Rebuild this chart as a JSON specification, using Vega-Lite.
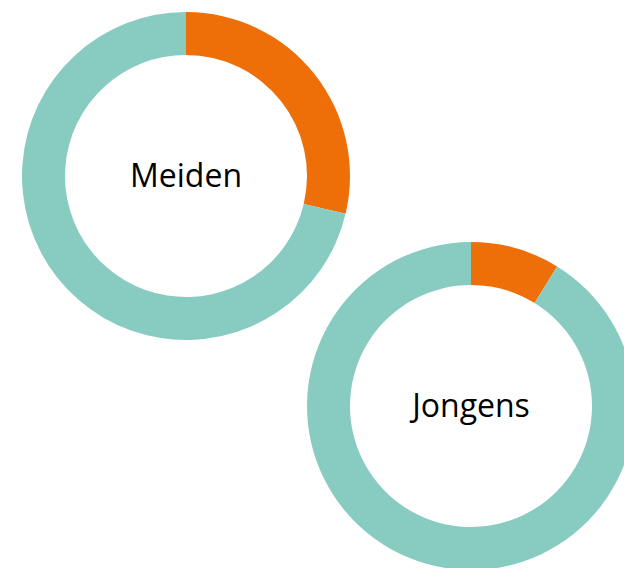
{
  "$schema": "https://vega.github.io/schema/vega-lite/v6.json",
  "autosize": {"type": "fit", "contains": "padding"},
  "width": 624,
  "height": 568,
  "padding": 0,
  "background": "white",
  "config": {"view": {"stroke": null}},
  "data": {
    "values": [
      {"group": "Meiden", "part": "ja", "order": 1, "value": 28.7},
      {"group": "Meiden", "part": "nee", "order": 2, "value": 71.3},
      {"group": "Jongens", "part": "ja", "order": 1, "value": 8.8},
      {"group": "Jongens", "part": "nee", "order": 2, "value": 91.2}
    ]
  },
  "transform": [
    {"stack": "value", "groupby": ["group"], "sort": [{"field": "order", "order": "ascending"}], "as": ["v0", "v1"]}
  ],
  "encoding": {
    "x": {"field": "group", "type": "nominal", "scale": {"type": "point", "padding": 0, "domain": ["Meiden", "Jongens"], "range": [186, 471]}, "axis": null},
    "y": {"field": "group", "type": "nominal", "scale": {"type": "point", "padding": 0, "domain": ["Meiden", "Jongens"], "range": [176, 406]}, "axis": null}
  },
  "layer": [
    {
      "mark": {"type": "arc", "radius": 164, "radius2": 121},
      "encoding": {
        "theta": {"field": "v0", "type": "quantitative", "scale": {"domain": [0, 100], "range": [0, 6.283185307179586]}},
        "theta2": {"field": "v1"},
        "color": {"field": "part", "type": "nominal", "scale": {"domain": ["ja", "nee"], "range": ["#EE6E08", "#88CBC0"]}, "legend": null}
      }
    },
    {
      "transform": [{"filter": "datum.order == 1"}],
      "mark": {"type": "text", "font": "Open Sans", "fontSize": 32, "color": "#000000", "baseline": "middle", "align": "center", "dy": 1},
      "encoding": {"text": {"field": "group"}}
    }
  ]
}
